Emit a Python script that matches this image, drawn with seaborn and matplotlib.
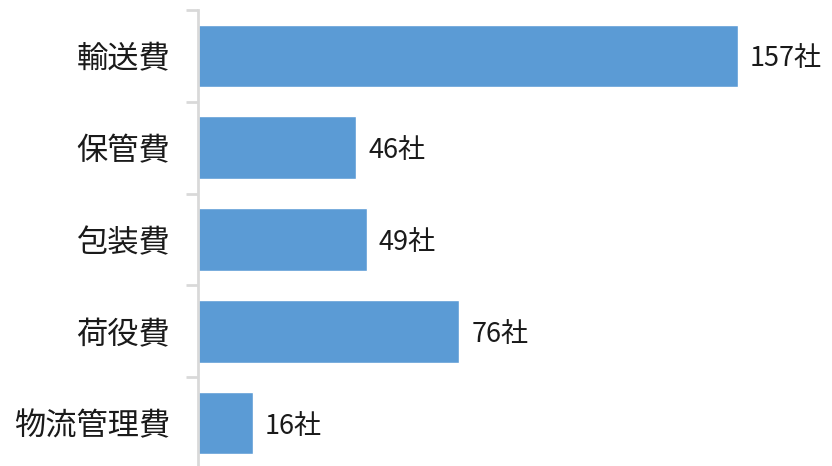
import matplotlib
matplotlib.use("Agg")
import matplotlib.pyplot as plt
import seaborn as sns
import pandas as pd

categories = ["輸送費", "保管費", "包装費", "荷役費", "物流管理費"]
values = [157, 46, 49, 76, 16]
value_labels = [f"{v}社" for v in values]

sns.set_theme(style="white")
plt.rcParams["font.family"] = ["Noto Sans CJK JP", "DejaVu Sans"]

df = pd.DataFrame({"category": categories, "value": values})

fig = plt.figure(figsize=(8.32, 4.66), dpi=100)
ax = fig.add_axes([198 / 832, -3 / 466, 634 / 832, 459 / 466])

sns.barplot(data=df, y="category", x="value", orient="h", color="#5B9BD5",
            saturation=1, width=0.68, ax=ax)

ax.set_xlim(0, 634 / 3.44)
ax.set_ylim(len(categories) - 0.5, -0.5)
ax.set_xlabel("")
ax.set_ylabel("")
ax.set_xticks([])

for sp in ["top", "right", "bottom"]:
    ax.spines[sp].set_visible(False)
ax.spines["left"].set_color("#D9D9D9")
ax.spines["left"].set_linewidth(2)

ax.tick_params(axis="y", which="major", left=False, length=0, pad=20,
               labelsize=22.5, labelcolor="#1a1a1a")
ax.set_yticks([i + 0.5 for i in range(-1, len(categories))], minor=True)
ax.tick_params(axis="y", which="minor", left=True, length=9, width=2,
               color="#D9D9D9")

for i, (v, lab) in enumerate(zip(values, value_labels)):
    ax.annotate(lab, xy=(v, i), xytext=(12, -3), textcoords="offset pixels",
                va="center", ha="left", fontsize=19.5, color="#1a1a1a")

fig.savefig("out.png", dpi=100)
